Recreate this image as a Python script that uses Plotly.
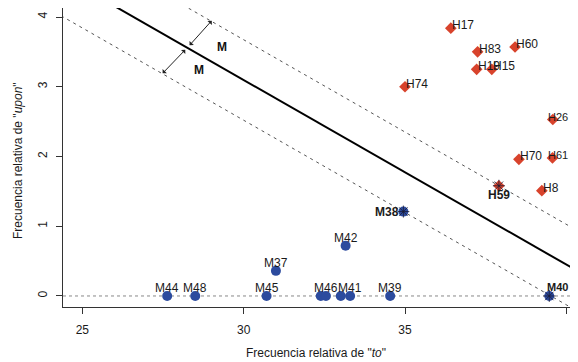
import plotly.graph_objects as go

# ---- data ----
H_names = ["H17", "H83", "H60", "H19", "H15", "H74", "H26", "H70", "H61", "H59", "H8"]
H_x = [36.42, 37.25, 38.41, 37.22, 37.69, 35.00, 39.58, 38.53, 39.57, 37.91, 39.24]
H_y = [3.84, 3.50, 3.57, 3.25, 3.25, 3.00, 2.53, 1.96, 1.98, 1.58, 1.51]

M_names = ["M44", "M48", "M45", "M37", "", "M46", "M42", "", "M41", "M39", "M38", "M40"]
M_x = [27.63, 28.50, 30.71, 31.00, 32.39, 32.55, 33.16, 33.01, 33.30, 34.54, 34.95, 39.47]
M_y = [0, 0, 0, 0.36, 0, 0, 0.72, 0, 0, 0, 1.21, 0]

support = ["H59", "M38", "M40"]
edge_labels = ["H26", "H61", "M40"]   # labels that sit against the right edge

line_slope = -0.2647
line_intercepts = {"upper": 11.615, "boundary": 11.038, "lower": 10.461}

x_ticks = [25, 30, 35, 40]
y_ticks = [0, 1, 2, 3, 4]
x_range = [24.402, 40.113]
y_range = [-0.158, 4.129]

# margin arrows (start on boundary, end on margin) and their labels
arrow_starts = [(28.285, 3.574), (28.235, 3.551)]
arrow_ends = [(29.01, 3.947), (27.49, 3.193)]
margin_label_pos = [(29.11, 3.574), (28.39, 3.24)]

RED = "#d8432c"
BLUE = "#2c4b9e"
FONT = "Liberation Sans, Arial, Helvetica, sans-serif"

fig = go.Figure()

# boundary and margins
xs = [x_range[0] - 1, x_range[1] + 1]
for key, val in line_intercepts.items():
    ys = [val + line_slope * x for x in xs]
    if key == "boundary":
        ln = dict(color="black", width=2)
    else:
        ln = dict(color="#555555", width=1, dash="3px,4px")
    fig.add_trace(go.Scatter(x=xs, y=ys, mode="lines", line=ln, hoverinfo="skip"))

# points
fig.add_trace(go.Scatter(x=H_x, y=H_y, mode="markers",
                         marker=dict(symbol="diamond", size=9, color=RED)))
fig.add_trace(go.Scatter(x=M_x, y=M_y, mode="markers",
                         marker=dict(symbol="circle", size=10, color=BLUE)))

# support vector overlays
sv_x, sv_y = [], []
for n, x, y in zip(H_names + M_names, H_x + M_x, H_y + M_y):
    if n in support:
        sv_x.append(x)
        sv_y.append(y)
SV_COL = "rgba(25,25,50,0.8)"
fig.add_trace(go.Scatter(x=sv_x, y=sv_y, mode="markers",
                         marker=dict(symbol="asterisk-open", size=10, color=SV_COL,
                                     line=dict(color=SV_COL, width=1))))

annotations = []
for n, x, y in zip(H_names, H_x, H_y):
    if n == "H59":
        annotations.append(dict(x=x, y=y, text="<b>H59</b>", showarrow=False,
                                xanchor="center", yanchor="middle", yshift=-9))
    elif n in edge_labels:
        annotations.append(dict(x=1, xref="paper", y=y, text=n, showarrow=False,
                                xanchor="right", yanchor="middle", yshift=3,
                                font=dict(size=11)))
    else:
        annotations.append(dict(x=x, y=y, text=n, showarrow=False,
                                xanchor="left", yanchor="middle", xshift=-1, yshift=3))
for n, x, y in zip(M_names, M_x, M_y):
    if not n:
        continue
    if n == "M38":
        annotations.append(dict(x=x, y=y, text="<b>M38</b>", showarrow=False,
                                xanchor="right", yanchor="middle", xshift=-2))
    elif n in edge_labels:
        annotations.append(dict(x=1, xref="paper", y=y, text="<b>%s</b>" % n,
                                showarrow=False, xanchor="right", yanchor="middle",
                                yshift=9, font=dict(size=11)))
    else:
        annotations.append(dict(x=x, y=y, text=n, showarrow=False,
                                xanchor="center", yanchor="middle", yshift=8))

for (sx, sy), (ex, ey) in zip(arrow_starts, arrow_ends):
    annotations.append(dict(x=ex, y=ey, ax=sx, ay=sy, axref="x", ayref="y",
                            xref="x", yref="y", text="", showarrow=True,
                            arrowhead=1, startarrowhead=1, arrowside="end+start",
                            arrowsize=1, startarrowsize=1, arrowwidth=1,
                            arrowcolor="#222222", standoff=0, startstandoff=0))
for (lx, ly) in margin_label_pos:
    annotations.append(dict(x=lx, y=ly, text="<b>M</b>", showarrow=False,
                            xanchor="left", yanchor="middle",
                            font=dict(size=12, color="#111111")))

# axis titles
annotations.append(dict(x=32.25, y=0, xref="x", yref="paper",
                        text='Frecuencia relativa de "<i>to</i>"', showarrow=False,
                        xanchor="center", yanchor="middle", yshift=-46))
annotations.append(dict(x=0, y=1.935, xref="paper", yref="y",
                        text='Frecuencia relativa de "<i>upon</i>"', showarrow=False,
                        textangle=-90, xanchor="center", yanchor="middle", xshift=-45))

# the page body adds an 8px offset; size the figure to the visible area
fig.update_layout(
    width=562, height=354,
    margin=dict(l=55, r=0, t=0, b=55, autoexpand=False),
    paper_bgcolor="white", plot_bgcolor="white",
    showlegend=False,
    font=dict(family=FONT, size=12, color="#1a1a1a"),
    annotations=annotations,
    shapes=[dict(type="line", xref="paper", yref="y", x0=0, x1=1, y0=0, y1=0,
                 line=dict(color="#888888", width=1, dash="dot"), layer="below")],
)
fig.update_xaxes(range=x_range, tickvals=x_ticks, ticks="outside", ticklen=6,
                 tickcolor="#333333", showline=True, linecolor="#333333", linewidth=1,
                 mirror=True, showgrid=False, zeroline=False, automargin=False,
                 ticklabelstandoff=6, tickfont=dict(size=12, color="#1a1a1a"))
fig.update_yaxes(range=y_range, tickvals=y_ticks, ticks="outside", ticklen=6,
                 tickcolor="#333333", showline=True, linecolor="#333333", linewidth=1,
                 showgrid=False, zeroline=False, tickangle=-90, automargin=False,
                 ticklabelstandoff=4, tickfont=dict(size=12, color="#1a1a1a"))

fig.write_html("out.html")
